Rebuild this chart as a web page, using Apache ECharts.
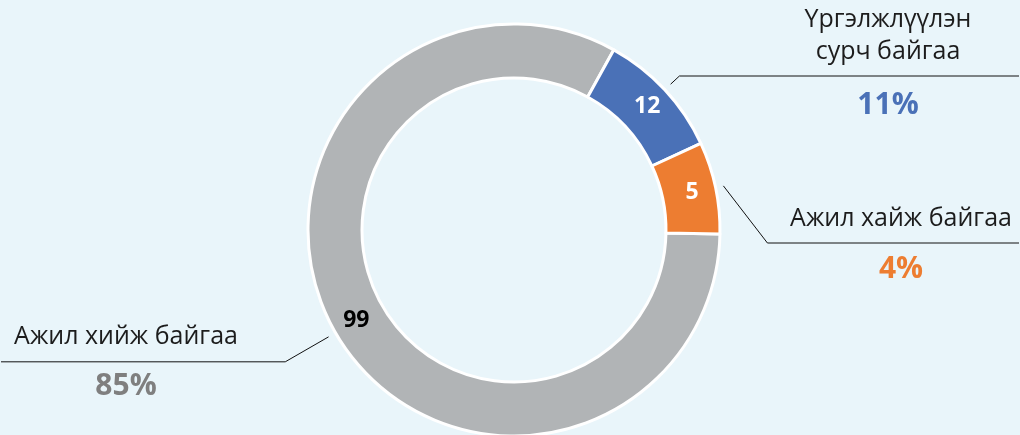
<!DOCTYPE html>
<html>
<head>
<meta charset="utf-8">
<script src="https://cdn.jsdelivr.net/npm/echarts@6/dist/echarts.min.js"></script>
<style>
  html, body { margin: 0; padding: 0; background: #e9f5fa; }
  #chart { width: 1020px; height: 435px; }
</style>
</head>
<body>
<div id="chart"></div>
<script>
// categories and values
const categories = ['Ажил хийж байгаа', 'Үргэлжлүүлэн\nсурч байгаа', 'Ажил хайж байгаа']
const values = [99, 12, 5]
const percentLabels = ['85%', '11%', '4%']
const colors = ['#b1b4b6', '#4a71b7', '#ed7d31']
const valueColors = ['#000000', '#ffffff', '#ffffff']
const pctColors = ['#7f7f7f', '#4a71b7', '#ed7d31']

// callout tweaks per slice (line length, label box width, rich layout)
const calloutLength = [50, 12, 45]
const calloutWidth = [250, 262, 236]
const calloutFormat = [
  '{name|NAME}\n{pct|PCT}',
  '{name2|NAME}\n{gap|　}\n{pct2|PCT}\n{gap2|　}',
  '{top|　}\n{name3|NAME}\n{pct3|PCT}\n{bot|　}'
]

const chart = echarts.init(document.getElementById('chart'))

const ringData = categories.map((name, i) => ({
  name,
  value: values[i],
  itemStyle: { color: colors[i] },
  label: { color: valueColors[i] }
}))

function richFor(i) {
  const w = calloutWidth[i]
  const nameStyle = (lh) => ({
    fontFamily: 'Open Sans', fontSize: 25, color: '#1c1c1c',
    lineHeight: lh, width: w, align: 'center'
  })
  const pctStyle = (lh) => ({
    fontFamily: 'Open Sans', fontSize: 30, fontWeight: 'bold',
    color: pctColors[i], lineHeight: lh, width: w, align: 'center'
  })
  const spacer = (lh) => ({ fontSize: 1, lineHeight: lh, width: w })
  return {
    name: nameStyle(50), pct: pctStyle(50),
    name2: nameStyle(32), gap: spacer(8), pct2: pctStyle(58), gap2: spacer(14),
    top: spacer(106), name3: nameStyle(48), pct3: pctStyle(52), bot: spacer(102)
  }
}

const calloutData = categories.map((name, i) => ({
  name,
  value: values[i],
  label: {
    formatter: calloutFormat[i].replace('NAME', name).replace('PCT', percentLabels[i]),
    rich: richFor(i)
  },
  labelLine: { length: calloutLength[i] }
}))

const common = {
  type: 'pie',
  center: [514, 230],
  clockwise: true,
  startAngle: -1.1,
  minAngle: 26,
  avoidLabelOverlap: true
}

chart.setOption({
  backgroundColor: '#e9f5fa',
  animation: false,
  series: [
    Object.assign({}, common, {
      name: 'ring',
      radius: [152, 206],
      itemStyle: { borderColor: '#ffffff', borderWidth: 3 },
      label: {
        show: true,
        position: 'inside',
        formatter: '{c}',
        fontFamily: 'Open Sans',
        fontSize: 23,
        fontWeight: 'bold'
      },
      labelLine: { show: false },
      emphasis: { disabled: true },
      data: ringData
    }),
    Object.assign({}, common, {
      name: 'callouts',
      radius: [150, 214],
      silent: true,
      itemStyle: { color: 'rgba(0,0,0,0)' },
      label: {
        show: true,
        position: 'outside',
        alignTo: 'edge',
        edgeDistance: 1,
        minMargin: 0
      },
      labelLine: {
        show: true,
        length2: 5,
        lineStyle: { color: '#111', width: 1 }
      },
      labelLayout: function (params) {
        const isLeft = params.labelRect.x < chart.getWidth() / 2
        const points = params.labelLinePoints
        points[2][0] = isLeft ? params.labelRect.x : params.labelRect.x + params.labelRect.width
        return { labelLinePoints: points }
      },
      data: calloutData
    })
  ]
})

window.addEventListener('resize', () => chart.resize())
</script>
</body>
</html>
